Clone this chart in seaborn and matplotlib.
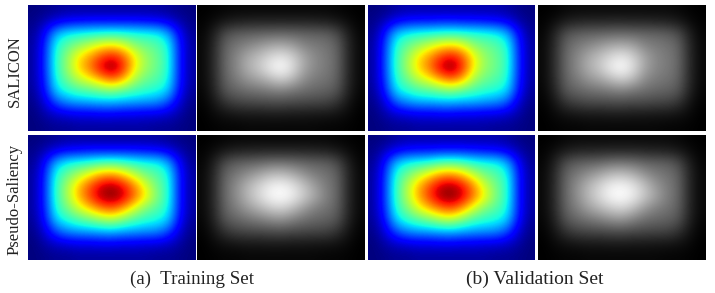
import matplotlib
matplotlib.use("Agg")
import matplotlib.pyplot as plt
import numpy as np
import seaborn as sns

# saliency maps on a coarse grid (0 = dark, 1 = peak)
salicon_train = [
    [.00, .01, .02, .03, .03, .03, .03, .03, .03, .03, .03, .03, .02, .01, .00],
    [.01, .05, .10, .13, .14, .15, .15, .15, .15, .15, .14, .13, .10, .05, .01],
    [.02, .12, .30, .36, .38, .39, .40, .41, .40, .39, .38, .37, .30, .12, .02],
    [.03, .15, .38, .46, .52, .58, .64, .66, .62, .52, .48, .45, .38, .15, .03],
    [.03, .16, .40, .52, .66, .74, .84, .90, .82, .66, .54, .48, .40, .15, .03],
    [.03, .16, .40, .53, .68, .78, .92, 1.0, .88, .66, .54, .48, .40, .15, .03],
    [.03, .15, .38, .48, .58, .64, .72, .80, .72, .56, .48, .45, .38, .15, .03],
    [.02, .13, .33, .39, .43, .45, .48, .50, .46, .43, .40, .38, .33, .13, .02],
    [.01, .08, .20, .26, .28, .29, .30, .30, .29, .28, .27, .26, .20, .08, .01],
    [.00, .04, .07, .09, .10, .10, .11, .11, .10, .10, .09, .09, .07, .04, .00],
    [.00, .01, .02, .02, .03, .03, .03, .03, .03, .03, .03, .02, .02, .01, .00],
]
pseudo_train = [
    [.00, .01, .02, .03, .03, .03, .03, .03, .03, .03, .03, .03, .02, .01, .00],
    [.01, .05, .10, .13, .14, .15, .15, .15, .15, .15, .14, .13, .10, .05, .01],
    [.02, .12, .30, .37, .39, .41, .44, .45, .43, .40, .38, .37, .30, .12, .02],
    [.03, .15, .39, .47, .56, .64, .72, .74, .68, .58, .49, .45, .38, .15, .03],
    [.03, .16, .41, .55, .70, .82, .93, .97, .90, .77, .62, .49, .40, .15, .03],
    [.03, .16, .41, .55, .71, .84, .96, 1.0, .94, .80, .66, .51, .40, .15, .03],
    [.03, .15, .39, .49, .60, .69, .78, .82, .74, .61, .50, .45, .38, .15, .03],
    [.02, .13, .33, .39, .44, .48, .53, .56, .50, .44, .40, .38, .33, .13, .02],
    [.01, .08, .20, .26, .28, .29, .30, .31, .29, .28, .27, .26, .20, .08, .01],
    [.00, .04, .07, .09, .10, .10, .11, .11, .10, .10, .09, .09, .07, .04, .00],
    [.00, .01, .02, .02, .03, .03, .03, .03, .03, .03, .03, .02, .02, .01, .00],
]
salicon_val = [
    [.00, .01, .03, .04, .04, .04, .04, .04, .04, .04, .04, .04, .03, .01, .00],
    [.01, .06, .12, .15, .16, .16, .17, .17, .16, .16, .15, .14, .11, .05, .01],
    [.02, .14, .32, .37, .39, .40, .41, .42, .41, .40, .39, .37, .31, .13, .02],
    [.03, .17, .39, .47, .53, .59, .65, .67, .63, .52, .48, .45, .39, .16, .03],
    [.03, .18, .41, .53, .66, .75, .85, .91, .82, .65, .53, .48, .41, .17, .03],
    [.03, .18, .41, .54, .68, .78, .93, 1.0, .87, .65, .53, .48, .41, .17, .03],
    [.03, .17, .39, .48, .58, .64, .73, .80, .72, .55, .48, .45, .39, .16, .03],
    [.02, .14, .34, .39, .43, .45, .48, .50, .46, .43, .40, .38, .34, .14, .02],
    [.01, .08, .21, .26, .29, .29, .30, .30, .29, .29, .27, .26, .21, .08, .01],
    [.00, .04, .07, .09, .10, .10, .11, .11, .10, .10, .09, .09, .07, .04, .00],
    [.00, .01, .02, .02, .03, .03, .03, .03, .03, .03, .03, .02, .02, .01, .00],
]
pseudo_val = [
    [.00, .01, .03, .04, .04, .04, .04, .04, .04, .04, .04, .04, .03, .01, .00],
    [.01, .06, .11, .14, .15, .15, .16, .16, .16, .15, .14, .13, .10, .05, .01],
    [.02, .13, .31, .37, .39, .41, .45, .46, .44, .40, .38, .37, .30, .12, .02],
    [.03, .16, .39, .48, .57, .65, .73, .75, .69, .58, .49, .45, .38, .15, .03],
    [.03, .17, .41, .56, .71, .83, .94, .97, .90, .76, .60, .49, .40, .15, .03],
    [.03, .17, .41, .56, .72, .85, .97, 1.0, .93, .78, .64, .50, .40, .15, .03],
    [.03, .16, .39, .50, .62, .71, .79, .83, .74, .60, .50, .45, .38, .15, .03],
    [.02, .13, .33, .40, .45, .49, .55, .57, .50, .43, .40, .38, .33, .13, .02],
    [.01, .08, .20, .26, .28, .29, .30, .31, .29, .28, .27, .26, .20, .08, .01],
    [.00, .04, .07, .09, .10, .10, .11, .11, .10, .10, .09, .09, .07, .04, .00],
    [.00, .01, .02, .02, .03, .03, .03, .03, .03, .03, .03, .02, .02, .01, .00],
]
row_labels = ["SALICON", "Pseudo-Saliency"]
set_labels = ["(a)  Training Set", "(b) Validation Set"]

W, H = 715, 293
col_x = [(28, 195.5), (197.5, 365), (368.5, 535), (537.5, 705)]
row_y = [(5, 131), (134.5, 260)]


def draw_map(fig, box, values, cmap):
    left, right, top, bottom = box
    ax = fig.add_axes([left / W, 1 - bottom / H, (right - left) / W, (bottom - top) / H])
    sns.heatmap(values, ax=ax, cmap=cmap, vmin=0, vmax=1, cbar=False,
                xticklabels=False, yticklabels=False)
    # heatmap cells are blocky, redraw the same cells with smoothing
    mesh = ax.collections[0]
    mesh.set_visible(False)
    n_rows, n_cols = np.shape(values)
    ax.imshow(values, cmap=cmap, vmin=0, vmax=1, aspect="auto",
              interpolation="bicubic", extent=(0, n_cols, n_rows, 0))
    return ax


sns.set_theme(style="white")
plt.rcParams["font.family"] = ["Liberation Serif", "DejaVu Serif"]

fig = plt.figure(figsize=(W / 100, H / 100), dpi=100, facecolor="white")

maps = [[salicon_train, salicon_val], [pseudo_train, pseudo_val]]
for r, (top, bottom) in enumerate(row_y):
    for s in range(2):
        jet_x = col_x[s * 2]
        gray_x = col_x[s * 2 + 1]
        draw_map(fig, (jet_x[0], jet_x[1], top, bottom), maps[r][s], "jet")
        draw_map(fig, (gray_x[0], gray_x[1], top, bottom), maps[r][s], "gray")

fig.text(15 / W, 1 - 71 / H, row_labels[0], rotation=90, ha="center", va="center",
         fontsize=12, color="#222222")
fig.text(15 / W, 1 - 199 / H, row_labels[1], rotation=90, ha="center", va="center",
         fontsize=12, color="#222222")
fig.text(191.5 / W, 1 - 279 / H, set_labels[0], ha="center", va="center",
         fontsize=13.7, color="#222222")
fig.text(535 / W, 1 - 279 / H, set_labels[1], ha="center", va="center",
         fontsize=14, color="#222222")

fig.savefig("out.png", dpi=100)
